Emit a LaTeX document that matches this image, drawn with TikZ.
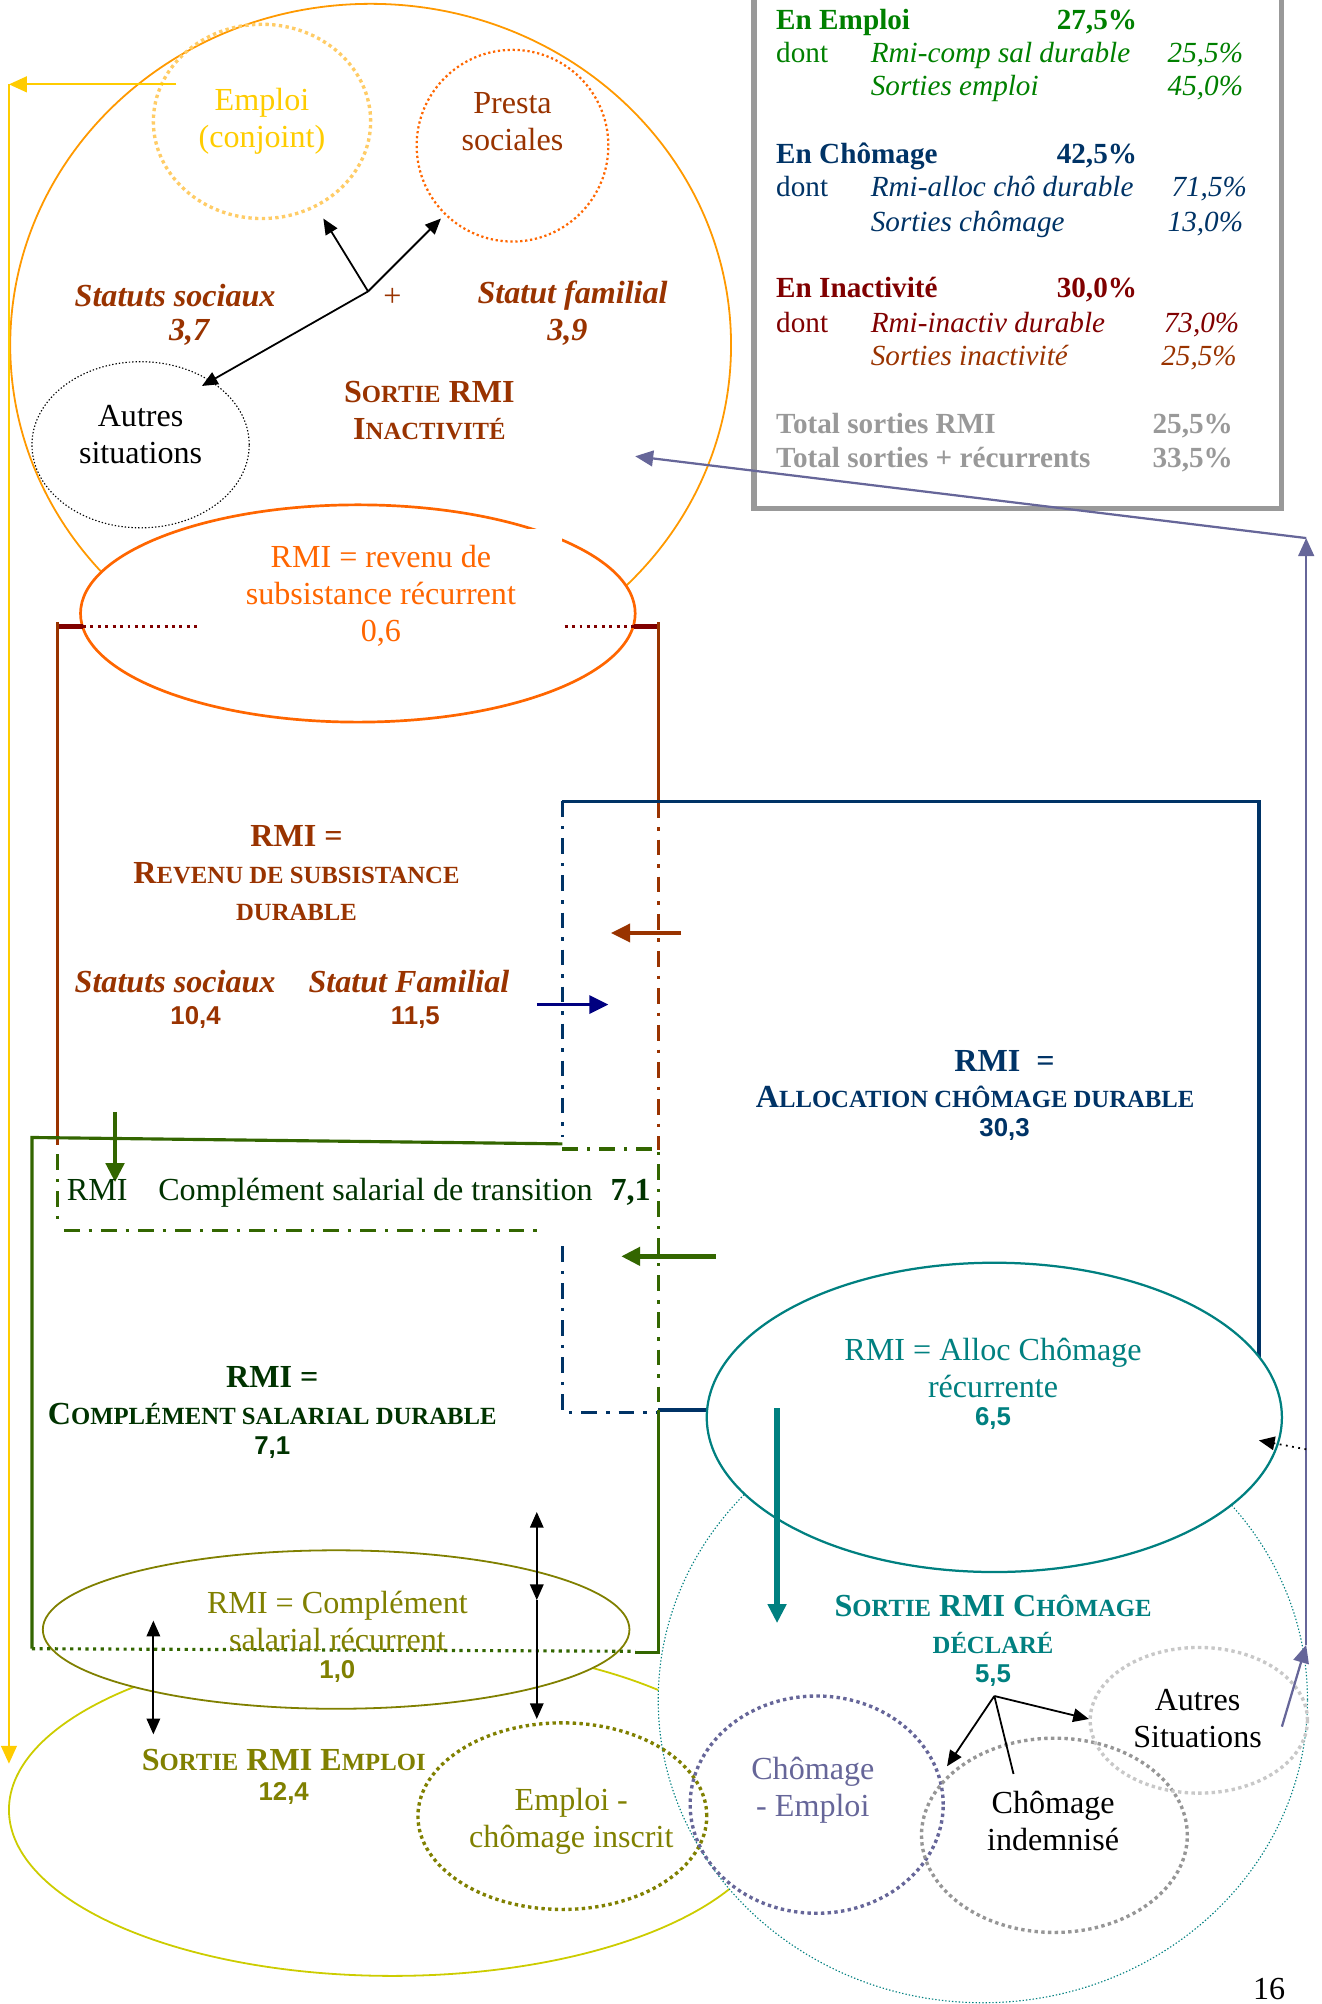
\documentclass[tikz,border=0pt]{standalone}
\usepackage{fontspec}
\setmainfont{Liberation Serif}
\setsansfont{Liberation Sans}
\usetikzlibrary{shapes.geometric,arrows.meta}

\definecolor{inaorange}{HTML}{FF9900}
\definecolor{recorange}{HTML}{FF6600}
\definecolor{rmibrown}{HTML}{993300}
\definecolor{rmidarkred}{HTML}{800000}
\definecolor{chonavy}{HTML}{003366}
\definecolor{arrnavy}{HTML}{000080}
\definecolor{salgreen}{HTML}{336600}
\definecolor{saltext}{HTML}{003300}
\definecolor{chteal}{HTML}{008080}
\definecolor{empolive}{HTML}{808000}
\definecolor{empyellow}{HTML}{CCCC00}
\definecolor{arryellow}{HTML}{FFCC00}
\definecolor{conjgold}{HTML}{FFCC66}
\definecolor{chpurple}{HTML}{666699}
\definecolor{indgray}{HTML}{969696}
\definecolor{autgray}{HTML}{C8C8C8}
\definecolor{tabgray}{HTML}{999999}
\definecolor{tabgreen}{HTML}{008000}

\newcommand{\gu}{0.02cm}
\newcommand{\lblfont}{\fontsize{14.3}{16.5}\selectfont}
\newcommand{\tabfont}{\fontsize{13}{15}\selectfont}
\newcommand{\numfont}{\fontsize{11.5}{14}\selectfont\sffamily\bfseries}
\newcommand{\bigsc}{\fontsize{14.3}{16.5}\selectfont}
\newcommand{\smlsc}{\fontsize{11}{16.5}\selectfont}
\newcommand{\Sc}[2]{{\bigsc #1}{\smlsc #2}}

\tikzstyle{oval} = [ellipse, inner sep=0pt, outer sep=0pt]
\tikzstyle{lbl} = [font=\lblfont, align=center, inner sep=0pt]
\tikzstyle{num} = [font=\numfont, inner sep=0pt]
\tikzstyle{tab} = [font=\tabfont, inner sep=0pt, anchor=base west]
\tikzstyle{tabr} = [font=\tabfont, inner sep=0pt, anchor=base east]
\tikzstyle{dotring} = [draw, line width=1.5pt, dash pattern=on 1.5pt off 1.5pt]
\tikzstyle{dashdot} = [dash pattern=on 7pt off 4pt on 1.5pt off 4pt]
\tikzstyle{blk} = [-{Triangle[length=7pt,width=6pt]}, line width=0.8pt]
\tikzstyle{fat} = [-{Triangle[length=8.5pt,width=8pt]}]

\begin{document}
\begin{tikzpicture}[x=0.02cm, y=-0.02cm]
    \useasboundingbox (0,0) rectangle (1034,1568);
    % sortie inactivite
    \node[oval, draw=inaorange, line width=0.8pt, minimum width=564*\gu, minimum height=534*\gu](ina) at (290,270){};
    \node[oval, dotring, draw=conjgold, minimum width=170*\gu, minimum height=152*\gu](conj) at (205,95){};
    \node[oval, draw=recorange, line width=1pt, dash pattern=on 1pt off 1.2pt, minimum width=150*\gu, minimum height=150*\gu](presta) at (401,114){};
    \node[oval, draw=black, line width=0.5pt, dash pattern=on 0.6pt off 0.9pt, minimum width=170*\gu, minimum height=130*\gu](aut1) at (110,348){};
    \coordinate (hub) at (288,228);
    \coordinate (tipconj) at (253,171);
    \coordinate (tippresta) at (345,171);
    \coordinate (tipaut) at (158,302);
    \draw[blk](hub)--(tipconj);
    \draw[blk](hub)--(tippresta);
    \draw[blk](hub)--(tipaut);
    \node[lbl, text=arryellow](conjtxt) at (205,95){Emploi\\(conjoint)};
    \node[lbl, text=rmibrown](prestatxt) at (401,95){Presta\\sociales};
    \node[lbl, text=rmibrown, font=\lblfont\bfseries\itshape](soc1) at (137,231){Statuts sociaux};
    \node[lbl, text=rmibrown, font=\lblfont\bfseries\itshape](soc1n) at (148,260){3,7};
    \node[lbl, text=rmibrown](plus) at (307,233){+};
    \node[lbl, text=rmibrown, font=\lblfont\bfseries\itshape](fam1) at (448,231){Statut familial};
    \node[lbl, text=rmibrown, font=\lblfont\bfseries\itshape](fam1n) at (444,260){3,9};
    \node[lbl, text=rmibrown, font=\lblfont\bfseries](sortina) at (336,321){\Sc{S}{ORTIE} RMI\\\Sc{I}{NACTIVITÉ}};
    \node[lbl](aut1txt) at (110,340){Autres\\situations};

    % fleches jaune et violette
    \coordinate (ystart) at (138,66);
    \coordinate (ycorner) at (7,66);
    \coordinate (yend) at (7,1380);
    \draw[arryellow, line width=1pt, -{Triangle[length=8pt,width=7pt]}](ystart)--(ycorner);
    \draw[arryellow, line width=1pt, -{Triangle[length=8pt,width=7pt]}](ycorner)--(yend);

    % tableau
    \draw[tabgray, line width=2.3pt] (590,-10) rectangle (1003,398);
    \node[tab, text=tabgreen](t1a) at (607,23){\textbf{En Emploi}};
    \node[tabr, text=tabgreen](t1b) at (890,23){\textbf{27,5\%}};
    \node[tab, text=tabgreen](t2a) at (607,49){dont};
    \node[tab, text=tabgreen](t2b) at (681,49){\textit{Rmi-comp sal durable}};
    \node[tabr, text=tabgreen](t2c) at (973,49){\textit{25,5\%}};
    \node[tab, text=tabgreen](t3b) at (681,75){\textit{Sorties emploi}};
    \node[tabr, text=tabgreen](t3c) at (973,75){\textit{45,0\%}};
    \node[tab, text=chonavy](t4a) at (607,128){\textbf{En Chômage}};
    \node[tabr, text=chonavy](t4b) at (890,128){\textbf{42,5\%}};
    \node[tab, text=chonavy](t5a) at (607,154){dont};
    \node[tab, text=chonavy](t5b) at (681,154){\textit{Rmi-alloc chô durable}};
    \node[tabr, text=chonavy](t5c) at (976,154){\textit{71,5\%}};
    \node[tab, text=chonavy](t6b) at (681,181){\textit{Sorties chômage}};
    \node[tabr, text=chonavy](t6c) at (973,181){\textit{13,0\%}};
    \node[tab, text=rmidarkred](t7a) at (607,233){\textbf{En Inactivité}};
    \node[tabr, text=rmidarkred](t7b) at (890,233){\textbf{30,0\%}};
    \node[tab, text=rmidarkred](t8a) at (607,260){dont};
    \node[tab, text=rmidarkred](t8b) at (681,260){\textit{Rmi-inactiv durable}};
    \node[tabr, text=rmidarkred](t8c) at (970,260){\textit{73,0\%}};
    \node[tab, text=rmibrown](t9b) at (681,286){\textit{Sorties inactivité}};
    \node[tabr, text=rmibrown](t9c) at (968,286){\textit{25,5\%}};
    \node[tab, text=tabgray](t10a) at (607,339){\textbf{Total sorties RMI}};
    \node[tabr, text=tabgray](t10b) at (965,339){\textbf{25,5\%}};
    \node[tab, text=tabgray](t11a) at (607,366){\textbf{Total sorties + récurrents}};
    \node[tabr, text=tabgray](t11b) at (965,366){\textbf{33,5\%}};

    % grandes zones du bas
    \node[oval, draw=empyellow, line width=0.8pt, minimum width=600*\gu, minimum height=260*\gu](empl) at (307,1416){};
    \node[oval, draw=chteal, fill=white, line width=0.5pt, dash pattern=on 0.6pt off 0.9pt, minimum width=508*\gu, minimum height=474*\gu](chodot) at (769,1330){};

    % revenu de subsistance recurrent
    \node[oval, draw=recorange, fill=white, line width=1.2pt, minimum width=434*\gu, minimum height=170*\gu](revrec) at (280,480){};
    \draw[rmidarkred, line width=2pt] (45,490) -- (65,490);
    \draw[rmidarkred, line width=2pt] (496,490) -- (515,490);
    \draw[rmidarkred, line width=1.3pt, dotted] (65,490) -- (496,490);
    \node[lbl, text=recorange, fill=white, minimum width=283*\gu, minimum height=104*\gu](revtxt) at (298,466){RMI = revenu de\\subsistance récurrent\\0,6};

    \node[oval, draw=empolive, fill=white, line width=0.8pt, minimum width=459*\gu, minimum height=124*\gu](comprec) at (263,1275){};

    % cadres
    \draw[rmibrown, line width=1.2pt] (45,487) -- (45,896);
    \draw[rmibrown, line width=1.2pt] (515,487) -- (515,628);
    \draw[rmibrown, line width=1.2pt, dashdot] (515,628) -- (515,900);
    \draw[chonavy, line width=1.6pt] (440,627) -- (985,627) -- (985,1070);
    \draw[chonavy, line width=1.3pt, dashdot] (440,627) -- (440,890);
    \draw[chonavy, line width=1.3pt, dashdot] (440,975) -- (440,1105) -- (515,1105);
    \draw[chonavy, line width=1.6pt] (515,1103) -- (560,1103);
    \draw[salgreen, line width=1.4pt] (25,1290) -- (25,890) -- (440,895);
    \draw[salgreen, line width=1.4pt, dashdot] (440,899) -- (515,899) -- (515,1103);
    \draw[salgreen, line width=1.4pt] (515,1103) -- (515,1293) -- (497,1293);
    \draw[salgreen, line width=1.4pt, dotted] (25,1290) -- (497,1292);
    \draw[salgreen, line width=1.4pt, dashdot] (45,903) -- (45,957);
    \draw[salgreen, line width=1.4pt, dashdot] (50,963) -- (422,963);

    % fleches epaisses
    \coordinate (brA) at (533,730);
    \coordinate (brB) at (478,730);
    \coordinate (nvA) at (420,786);
    \coordinate (nvB) at (476,786);
    \coordinate (gdA) at (90,870);
    \coordinate (gdB) at (90,925);
    \coordinate (glA) at (560,983);
    \coordinate (glB) at (486,983);
    \draw[fat, rmibrown, line width=1.6pt](brA)--(brB);
    \draw[fat, arrnavy, line width=1.6pt](nvA)--(nvB);
    \draw[fat, salgreen, line width=2.2pt](gdA)--(gdB);
    \draw[fat, salgreen, line width=2.5pt](glA)--(glB);

    \node[lbl, text=rmibrown, font=\lblfont\bfseries](durtxt) at (232,683){RMI =\\\Sc{R}{EVENU DE SUBSISTANCE}\\{\smlsc DURABLE}};
    \node[lbl, text=rmibrown, font=\lblfont\bfseries\itshape](soc2) at (137,768){Statuts sociaux};
    \node[num, text=rmibrown](soc2n) at (153,796){10,4};
    \node[lbl, text=rmibrown, font=\lblfont\bfseries\itshape](fam2) at (320,768){Statut Familial};
    \node[num, text=rmibrown](fam2n) at (325,796){11,5};
    \node[lbl, text=chonavy, font=\lblfont\bfseries](cho1) at (786,830){RMI\ \ =};
    \node[lbl, text=chonavy, font=\lblfont\bfseries](cho2) at (763,858){\Sc{A}{LLOCATION CHÔMAGE DURABLE}};
    \node[num, text=chonavy](chon) at (786,884){30,3};
    \node[lbl, text=saltext, anchor=west](trans) at (52,933){RMI\hspace{13.7pt}Complément salarial de transition\hspace{8pt}\textbf{7,1}};
    \node[lbl, text=saltext, font=\lblfont\bfseries](saltxt) at (213,1092){RMI =\\\Sc{C}{OMPLÉMENT SALARIAL DURABLE}};
    \node[num, text=saltext](saln) at (213,1133){7,1};

    % allocation chomage recurrente
    \node[oval, draw=chteal, fill=white, line width=1pt, minimum width=450*\gu, minimum height=242*\gu](allocrec) at (778,1109){};
    \coordinate (tlA) at (608,1102);
    \coordinate (tlB) at (608,1270);
    \draw[fat, chteal, line width=2.5pt](tlA)--(tlB);
    \node[lbl, text=chteal](alloctxt) at (777,1070){RMI = Alloc Chômage\\récurrente};
    \node[num, text=chteal](allocn) at (777,1110){6,5};

    % sorties emploi et chomage
    \node[oval, dotring, draw=empolive, minimum width=226*\gu, minimum height=146*\gu](inscrit) at (440,1421){};
    \node[oval, dotring, draw=chpurple, minimum width=198*\gu, minimum height=170*\gu](chomemp) at (639,1412){};
    \node[oval, dotring, draw=indgray, minimum width=208*\gu, minimum height=152*\gu](indem) at (825,1436){};
    \node[oval, dotring, draw=autgray, minimum width=170*\gu, minimum height=114*\gu](aut2) at (938,1346){};

    \node[lbl, text=chteal, font=\lblfont\bfseries](sortcho) at (777,1271){\Sc{S}{ORTIE} RMI \Sc{C}{HÔMAGE}\\{\smlsc DÉCLARÉ}};
    \node[num, text=chteal](sortchon) at (777,1311){5,5};
    \node[lbl, text=empolive](comptxt) at (264,1268){RMI = Complément\\salarial récurrent};
    \node[num, text=empolive](compn) at (264,1308){1,0};
    \node[lbl, text=empolive, font=\lblfont\bfseries](sortemp) at (222,1377){\Sc{S}{ORTIE} RMI \Sc{E}{MPLOI}};
    \node[num, text=empolive](sortempn) at (222,1403){12,4};
    \node[lbl, text=empolive](inscrittxt) at (447,1425){Emploi -\\chômage inscrit};
    \node[lbl, text=chpurple](chomemptxt) at (636,1401){Chômage\\- Emploi};
    \node[lbl](indemtxt) at (824,1425){Chômage\\indemnisé};
    \node[lbl](aut2txt) at (937,1345){Autres\\Situations};
    \node[lbl](page) at (993,1556){16};

    \coordinate (hub2) at (778,1327);
    \coordinate (tipchemp) at (741,1382);
    \coordinate (tipaut2) at (852,1345);
    \coordinate (endind) at (793,1388);
    \draw[blk](hub2)--(tipchemp);
    \draw[blk](hub2)--(tipaut2);
    \draw[line width=0.8pt](hub2)--(endind);

    \coordinate (dbA) at (120,1268);
    \coordinate (dbB) at (120,1357);
    \coordinate (dcA) at (420,1183);
    \coordinate (dcB) at (420,1252);
    \coordinate (dcC) at (420,1345);
    \draw[blk, {Triangle[length=7pt,width=6pt]}-{Triangle[length=7pt,width=6pt]}](dbA)--(dbB);
    \draw[blk, {Triangle[length=7pt,width=6pt]}-{Triangle[length=7pt,width=6pt]}](dcA)--(dcB);
    \draw[blk](dcB)--(dcC);

    \coordinate (pstart) at (1003,1351);
    \coordinate (pbot) at (1022,1287);
    \coordinate (ptop) at (1022,421);
    \coordinate (ptip) at (497,357);
    \draw[chpurple, line width=1pt, -{Triangle[length=8pt,width=7pt]}](pstart)--(pbot);
    \draw[chpurple, line width=1pt, -{Triangle[length=8pt,width=7pt]}](pbot)--(ptop);
    \draw[chpurple, line width=1pt, -{Triangle[length=8pt,width=7pt]}](ptop)--(ptip);
    \coordinate (dotA) at (1022,1134);
    \coordinate (dotB) at (985,1127);
    \draw[blk, dotted](dotA)--(dotB);
  \end{tikzpicture}
\end{document}
